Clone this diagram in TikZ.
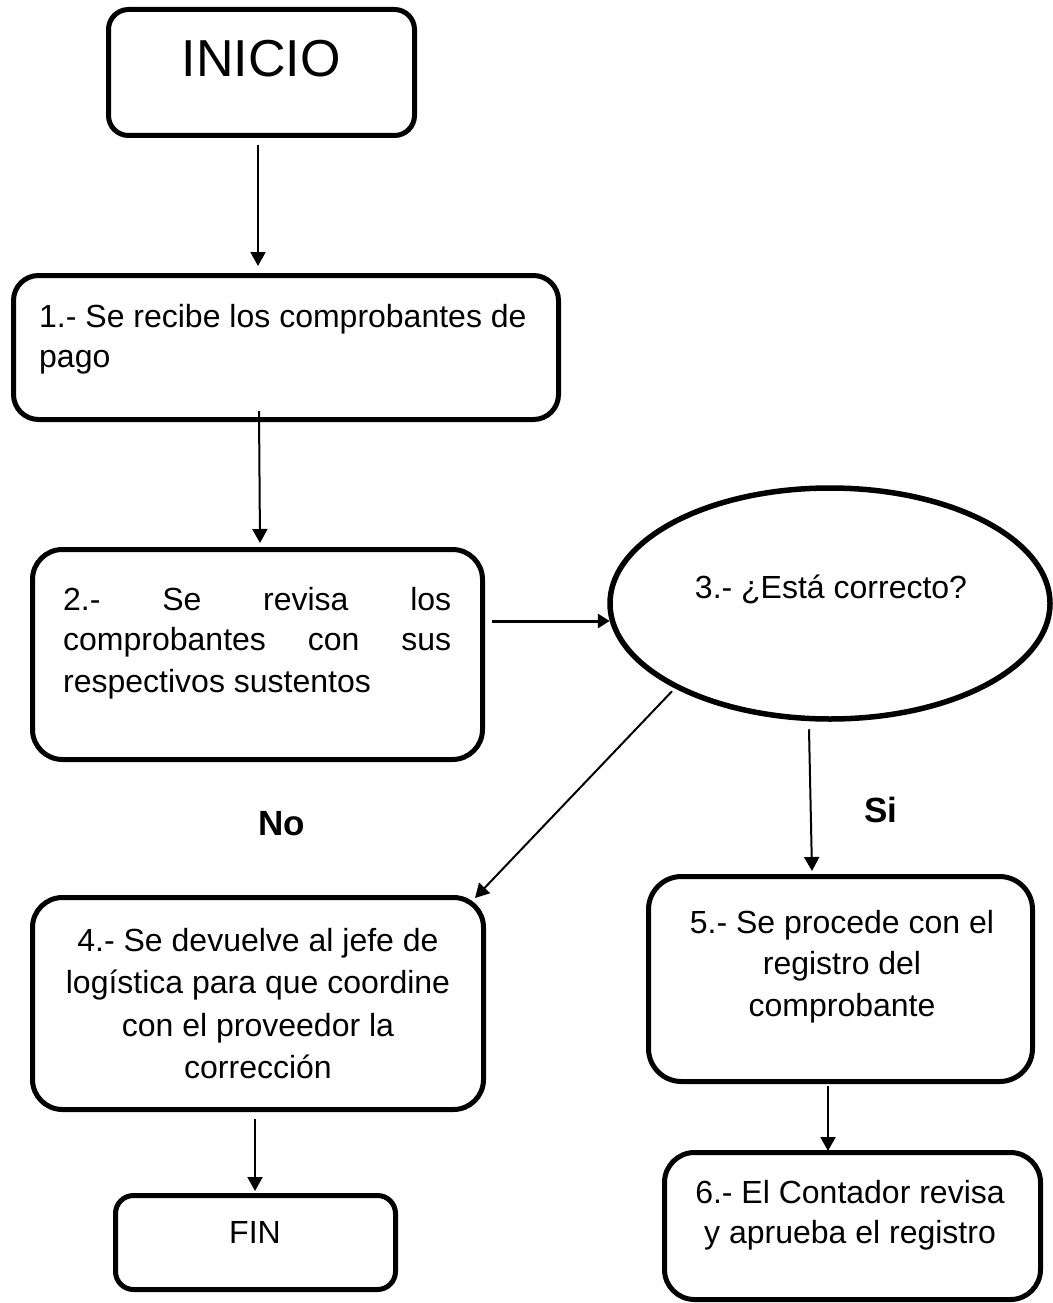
\documentclass[tikz,border=0pt]{standalone}
\usepackage{fontspec}
\setmainfont{Liberation Sans}
\usetikzlibrary{arrows.meta,calc,shapes.geometric}
\begin{document}
\begin{tikzpicture}[x=1pt,y=-1pt,
  box/.style={draw=black, line width=5pt, inner sep=0pt, fill=white},
  lbl/.style={inner sep=0pt, font=\fontsize{32}{40}\selectfont},
  yesno/.style={inner sep=0pt, font=\fontsize{35}{40}\selectfont\bfseries},
  arr/.style={line width=2pt, -{Triangle[width=15pt,length=14pt]}},
  arrthick/.style={line width=3pt, -{Triangle[width=14pt,length=12pt]}}]
\useasboundingbox (0,0) rectangle (1052,1303);

% boxes
\node[box, rounded corners=20pt, minimum width=306pt, minimum height=126pt] (inicio) at (261.5,72.5) {};
\node[box, rounded corners=25pt, minimum width=545pt, minimum height=144pt] (b1) at (286,347.5) {};
\node[box, rounded corners=30pt, minimum width=450pt, minimum height=210pt] (b2) at (257.5,654.5) {};
\node[box, ellipse, line width=5.5pt, minimum width=440pt, minimum height=231pt] (ell) at (830,603.5) {};
\node[box, rounded corners=30pt, minimum width=451pt, minimum height=212pt] (b4) at (258,1003.5) {};
\node[box, rounded corners=18pt, minimum width=280pt, minimum height=94pt] (fin) at (255.5,1242.5) {};
\node[box, rounded corners=33pt, minimum width=384pt, minimum height=205pt] (b5) at (840.5,979) {};
\node[box, rounded corners=30pt, minimum width=376pt, minimum height=147pt] (b6) at (852.5,1226) {};

% texts
\node[inner sep=0pt, font=\fontsize{52}{60}\selectfont, anchor=base] (tinicio) at (261,77) {INICIO};

\node[lbl, anchor=base west] (t1a) at (39,327) {1.- Se recibe los comprobantes de};
\node[lbl, anchor=base west] (t1b) at (39,367) {pago};

\node[lbl, anchor=base west] (t2a) at (63,610) {\hbox to 388pt{2.-\hfill Se\hfill revisa\hfill los}};
\node[lbl, anchor=base west] (t2b) at (63,650) {\hbox to 388pt{comprobantes\hfill con\hfill sus}};
\node[lbl, anchor=base west] (t2c) at (63,692) {respectivos sustentos};

\node[lbl, anchor=base] (t3) at (831,598) {3.- ¿Está correcto?};

\node[lbl, anchor=base] (t4a) at (258,951) {4.- Se devuelve al jefe de};
\node[lbl, anchor=base] (t4b) at (258,993) {logística para que coordine};
\node[lbl, anchor=base] (t4c) at (258,1036) {con el proveedor la};
\node[lbl, anchor=base] (t4d) at (258,1078) {corrección};

\node[lbl, anchor=base] (tfin) at (255,1243) {FIN};

\node[lbl, anchor=base] (t5a) at (842,933) {5.- Se procede con el};
\node[lbl, anchor=base] (t5b) at (842,974) {registro del};
\node[lbl, anchor=base] (t5c) at (842,1016) {comprobante};

\node[lbl, anchor=base] (t6a) at (850,1203) {6.- El Contador revisa};
\node[lbl, anchor=base] (t6b) at (850,1243) {y aprueba el registro};

\node[yesno, anchor=base] (lno) at (281.5,835) {No};
\node[yesno, anchor=base] (lsi) at (881,822) {Si};

% connectors
\draw[arr] ($(inicio.south)+(-3.5,7)$) -- ($(b1.north)+(-28,-7)$);
\draw[arr] ($(b1.south)+(-27,-11)$) -- ($(b2.north)+(2.5,-4)$);
\draw[arrthick] ($(b2.east)+(7,-33.5)$) -- ($(ell.west)+(2.5,17.5)$);
\draw[arr] ($(ell.south)+(-158,-30.5)$) -- ($(b4.north east)+(-11,3)$);
\draw[arr] ($(ell.south)+(-21,7.5)$) -- ($(b5.north)+(-28.5,-3)$);
\draw[arr] ($(b4.south)+(-3,7)$) -- ($(fin.north)+(-0.5,-2)$);
\draw[arr] ($(b5.south)+(-12.5,2)$) -- ($(b6.north)+(-24.5,1)$);
\end{tikzpicture}
\end{document}
